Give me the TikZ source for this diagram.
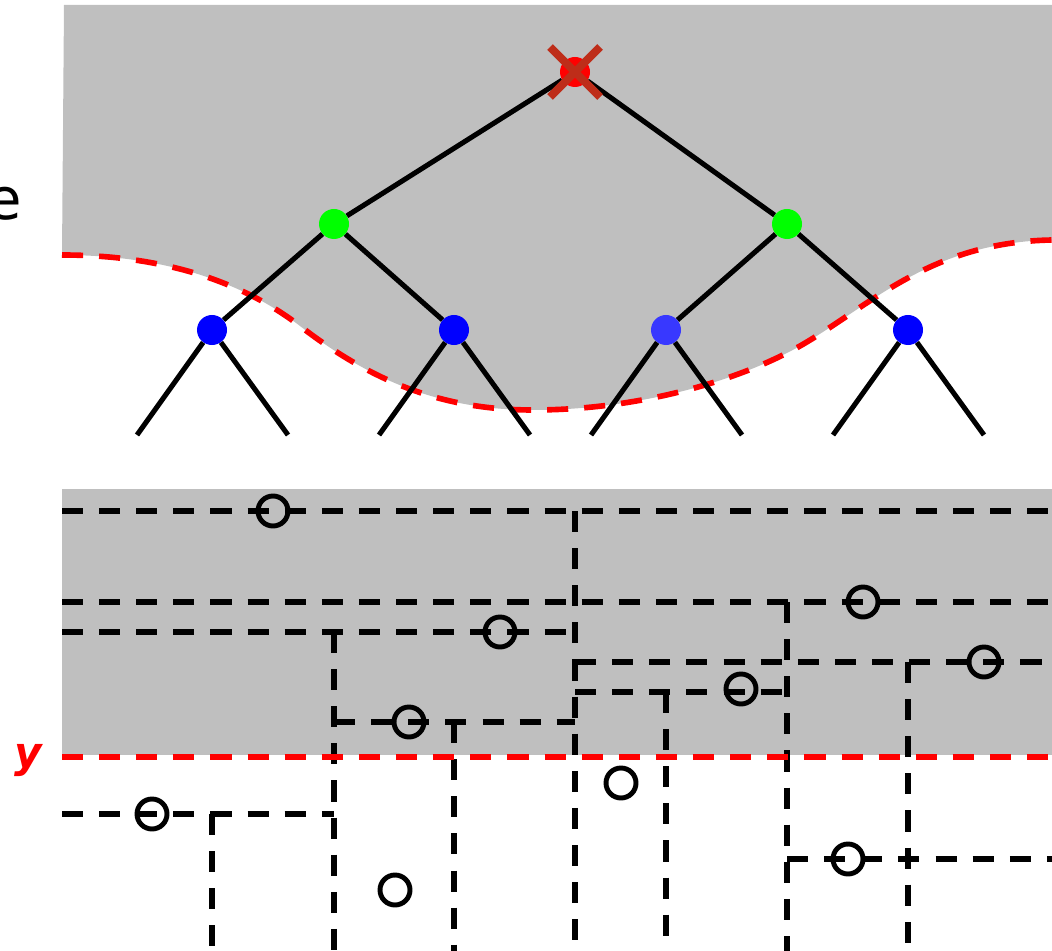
\documentclass[tikz,border=0pt]{standalone}
\usepackage{fontspec}
\setmainfont{DejaVu Sans}
\definecolor{backdrop}{HTML}{BFBFBF}
\definecolor{cut}{HTML}{FF0000}
\definecolor{strike}{RGB}{190,45,25}
\definecolor{inner}{HTML}{00FF00}
\definecolor{lower}{HTML}{0000FF}
\definecolor{lowerlight}{HTML}{3838FF}
\tikzset{
  vertex/.style={circle, inner sep=0pt, minimum size=.75cm},
  edge/.style={line width=3.6pt, black},
  split/.style={line width=4pt, black, dash pattern=on 15pt off 11.4pt},
  cutline/.style={line width=4pt, cut, dash pattern=on 15pt off 11.4pt},
  point/.style={circle, draw, line width=3.5pt, inner sep=0pt, minimum size=.75cm}
}
\begin{document}
\begin{tikzpicture}[x=.025cm, y=-.025cm]
  \useasboundingbox (0,0) rectangle (1052,951);
  \clip (0,0) rectangle (1052,951);
  \fill[backdrop] (64,5) -- (62,255) .. controls (160,255) and (240,280) .. (300,326)
    .. controls (370,380) and (440,410) .. (533,410)
    .. controls (640,410) and (740,380) .. (800,346)
    .. controls (870,306) and (930,242) .. (1052,240) -- (1052,5) -- cycle;
  \draw[cutline] (62,255) .. controls (160,255) and (240,280) .. (300,326)
    .. controls (370,380) and (440,410) .. (533,410)
    .. controls (640,410) and (740,380) .. (800,346)
    .. controls (870,306) and (930,242) .. (1052,240);
  \node[anchor=base east, inner sep=0pt, font=\fontsize{41}{41}\selectfont] (word) at (22,220) {e};
  \node[vertex, fill=cut] (root) at (575,72) {};
  \node[vertex, fill=inner] (l) at (334,224) {};
  \node[vertex, fill=inner] (r) at (787,224) {};
  \node[vertex, fill=lower] (ll) at (212,330) {};
  \node[vertex, fill=lower] (lr) at (454,330) {};
  \node[vertex, fill=lowerlight] (rl) at (666,330) {};
  \node[vertex, fill=lower] (rr) at (908,330) {};
  \foreach \n/\a/\b in {ll/137/288, lr/379/530, rl/591/742, rr/833/984} {
    \coordinate (\n a) at (\a,435);
    \coordinate (\n b) at (\b,435);
    \draw[edge] (\n) -- (\n a);
    \draw[edge] (\n) -- (\n b);
  }
  \draw[edge] (root) -- (l);
  \draw[edge] (root) -- (r);
  \draw[edge] (l) -- (ll);
  \draw[edge] (l) -- (lr);
  \draw[edge] (r) -- (rl);
  \draw[edge] (r) -- (rr);
  \draw[strike, line width=5.6pt] ([shift={(-25,-25)}]root.center) -- ([shift={(25,25)}]root.center);
  \draw[strike, line width=5.6pt] ([shift={(-25,25)}]root.center) -- ([shift={(25,-25)}]root.center);
  \fill[backdrop] (62,489) rectangle (1052,755);
  \foreach \ya/\xa/\xb in {511/62/1052, 602/62/1052, 632/62/575, 722/334/575, 662/575/1052, 692/575/787, 814/62/334, 859/787/1052}
    \draw[split] (\xa,\ya) -- (\xb,\ya);
  \foreach \xa/\ya in {575/511, 334/632, 454/722, 787/602, 666/692, 908/662, 212/814}
    \draw[split] (\xa,\ya) -- (\xa,951);
  \coordinate (yl) at (62,757);
  \coordinate (yr) at (1052,757);
  \draw[cutline] (yl) -- (yr);
  \node[anchor=base, inner sep=0pt, text=cut, font=\fontsize{30}{30}\selectfont\bfseries\itshape] (ylabel) at (28,767) {y};
  \foreach \x/\y [count=\i] in {273/511, 863/602, 500/632, 984/662, 741/689, 409/722, 621/783, 152/814, 848/859, 395/890}
    \node[point] (p\i) at (\x,\y) {};
\end{tikzpicture}
\end{document}
